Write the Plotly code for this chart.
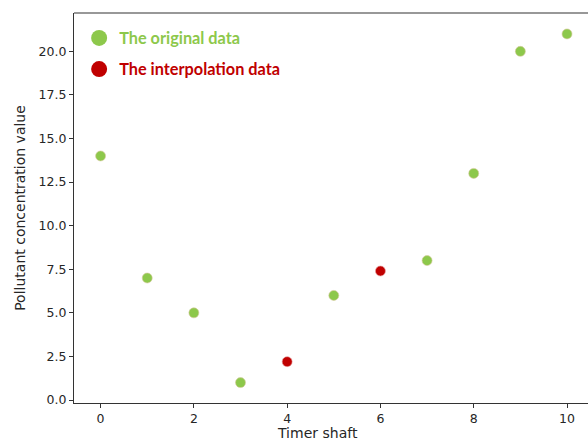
import plotly.graph_objects as go

orig_x = [0, 1, 2, 3, 5, 7, 8, 9, 10]
orig_y = [14, 7, 5, 1, 6, 8, 13, 20, 21]
interp_x = [4, 6]
interp_y = [2.2, 7.4]
x_ticks = [0, 2, 4, 6, 8, 10]
y_ticks = [0.0, 2.5, 5.0, 7.5, 10.0, 12.5, 15.0, 17.5, 20.0]

GREEN = "#8DC84B"
RED = "#C00000"

fig = go.Figure()
fig.add_trace(go.Scatter(x=orig_x, y=orig_y, mode="markers", showlegend=False,
                         marker=dict(size=10, color=GREEN, line=dict(color="#D9C9A0", width=0.6))))
fig.add_trace(go.Scatter(x=interp_x, y=interp_y, mode="markers", showlegend=False,
                         marker=dict(size=10, color=RED, line=dict(color="#E8A0A0", width=0.6))))
# legend entries
fig.add_trace(go.Scatter(x=[None], y=[None], mode="markers", legendgroup="a",
                         name="<b><span style='color:#8DC84B'>The original data</span></b>",
                         marker=dict(size=16, color=GREEN)))
fig.add_trace(go.Scatter(x=[None], y=[None], mode="markers", legendgroup="b",
                         name="<b><span style='color:#C00000'>The interpolation data</span></b>",
                         marker=dict(size=16, color=RED)))

axis_common = dict(showgrid=False, zeroline=False, showline=True, linecolor="#333333",
                   linewidth=1.2, ticks="outside", ticklen=4, tickcolor="#333333",
                   tickfont=dict(family="DejaVu Sans", size=12.5, color="#262626"))

fig.update_layout(
    width=588, height=443,
    margin=dict(l=74, r=0, t=13, b=40),
    paper_bgcolor="white", plot_bgcolor="white",
    xaxis=dict(range=[-0.57, 10.45], tickvals=x_ticks, ticktext=[str(v) for v in x_ticks],
               mirror=False, automargin=False, **axis_common),
    yaxis=dict(range=[-0.17, 22.2], tickvals=y_ticks, ticktext=[f"{v:.1f}" for v in y_ticks],
               title=dict(text="Pollutant concentration value",
                          font=dict(family="DejaVu Sans", size=14, color="#262626"), standoff=9),
               automargin=False, **axis_common),
    legend=dict(x=0.01, y=0.98, xanchor="left", yanchor="top", bgcolor="rgba(0,0,0,0)",
                font=dict(family="Lato", size=16.3), tracegroupgap=7, traceorder="grouped",
                itemsizing="trace"),
    showlegend=True,
)
# x-axis title
fig.add_annotation(text="Timer shaft", xref="paper", yref="paper", x=0.4737, y=-0.05,
                   xanchor="center", yanchor="top", showarrow=False,
                   font=dict(family="DejaVu Sans", size=14, color="#262626"))
# top spine
fig.add_shape(type="line", xref="paper", yref="paper", x0=0, x1=1, y0=1, y1=1,
              line=dict(color="#333333", width=1.2))

fig.write_html("out.html", config={"displayModeBar": False},
               post_script="document.body.style.margin='0';document.body.style.overflow='hidden';")
